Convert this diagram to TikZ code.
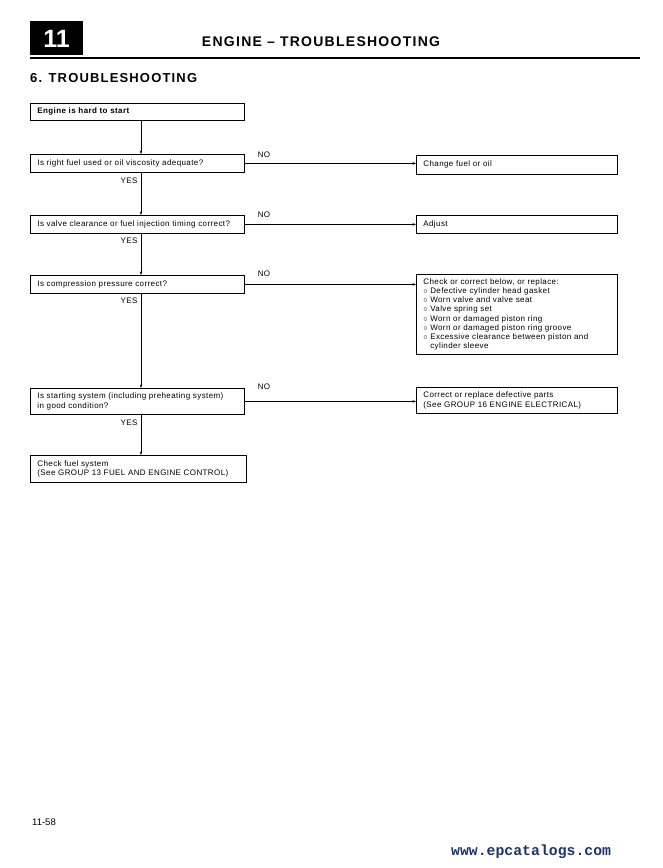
\documentclass[tikz,border=0pt]{standalone}
\usepackage{fontspec}
\setmainfont{Liberation Sans}
\newfontfamily\hdrfont[LetterSpace=9]{Liberation Sans}
\newfontfamily\boxfont[LetterSpace=5]{Liberation Sans}
\newfontfamily\urlfont{Liberation Mono}
\usetikzlibrary{arrows.meta}
\definecolor{urlblue}{HTML}{1C3566}
\begin{document}
\begin{tikzpicture}[x=1pt,y=-1pt,
  box/.style={draw, line width=0.8pt, anchor=north west, inner xsep=7pt, inner ysep=2pt,
    align=left, font=\boxfont\fontsize{8}{9.2}\selectfont},
  arr/.style={line width=0.7pt, -{Stealth[length=3.5pt,width=2.6pt]}},
  lbl/.style={font=\boxfont\fontsize{8}{9}\selectfont, inner sep=0pt}]
\useasboundingbox (0,0) rectangle (662,868);
% header
\fill[black] (30,21) rectangle (83,55);
\node[text=white, font=\bfseries\fontsize{25}{25}\selectfont, inner sep=0pt] (num) at (56.5,39) {11};
\node[font=\hdrfont\bfseries\fontsize{14}{14}\selectfont, inner sep=0pt] (hdr) at (321,42) {ENGINE – TROUBLESHOOTING};
\draw[line width=1.2pt] (30,58) -- (640,58);
\node[font=\hdrfont\bfseries\fontsize{13}{13}\selectfont, anchor=west, inner sep=0pt] (sec) at (30,78) {6. TROUBLESHOOTING};
% left boxes
\node[box, minimum width=214pt, minimum height=17pt, text width=200pt] (b1) at (30,103) {\textbf{Engine is hard to start}};
\node[box, minimum width=214pt, minimum height=18pt, text width=200pt] (b2) at (30,154) {Is right fuel used or oil viscosity adequate?};
\node[box, minimum width=214pt, minimum height=18pt, text width=200pt] (b3) at (30,215) {Is valve clearance or fuel injection timing correct?};
\node[box, minimum width=214pt, minimum height=18pt, text width=200pt] (b4) at (30,275) {Is compression pressure correct?};
\node[box, minimum width=214pt, minimum height=26pt, text width=200pt] (b5) at (30,388) {Is starting system (including preheating system)\\in good condition?};
\node[box, minimum width=216pt, minimum height=27pt, text width=202pt] (b6) at (30,455) {Check fuel system\\(See GROUP 13 FUEL AND ENGINE CONTROL)};
% right boxes
\node[box, minimum width=201pt, minimum height=19pt, text width=187pt] (r1) at (416,155) {Change fuel or oil};
\node[box, minimum width=201pt, minimum height=18pt, text width=187pt] (r2) at (416,215) {Adjust};
\node[box, minimum width=201pt, minimum height=80pt, text width=187pt] (r3) at (416,274) {Check or correct below, or replace:\\
$\circ$ Defective cylinder head gasket\\
$\circ$ Worn valve and valve seat\\
$\circ$ Valve spring set\\
$\circ$ Worn or damaged piston ring\\
$\circ$ Worn or damaged piston ring groove\\
$\circ$ Excessive clearance between piston and\\
\phantom{$\circ$} cylinder sleeve};
\node[box, minimum width=201pt, minimum height=26pt, text width=187pt] (r4) at (416,387) {Correct or replace defective parts\\(See GROUP 16 ENGINE ELECTRICAL)};
% vertical trunk
\coordinate (vx) at (141,0);
\draw[arr] (b1.south -| vx) -- (b2.north -| vx);
\draw[arr] (b2.south -| vx) -- (b3.north -| vx);
\draw[arr] (b3.south -| vx) -- (b4.north -| vx);
\draw[arr] (b4.south -| vx) -- (b5.north -| vx);
\draw[arr] (b5.south -| vx) -- (b6.north -| vx);
% NO branches
\draw[arr] (b2.east) -- (b2.east -| r1.west);
\draw[arr] (b3.east) -- (b3.east -| r2.west);
\draw[arr] (b4.east) -- (b4.east -| r3.west);
\draw[arr] (b5.east) -- (b5.east -| r4.west);
% labels
\node[lbl] (n1) at (264,155) {NO};
\node[lbl] (n2) at (264,215) {NO};
\node[lbl] (n3) at (264,274) {NO};
\node[lbl] (n4) at (264,387) {NO};
\node[lbl] (y1) at (129,181) {YES};
\node[lbl] (y2) at (129,241) {YES};
\node[lbl] (y3) at (129,301) {YES};
\node[lbl] (y4) at (129,423) {YES};
% footer
\node[font=\fontsize{9.5}{10}\selectfont, anchor=west, inner sep=0pt] (pg) at (32,822) {11-58};
\node[font=\urlfont\bfseries\fontsize{14.8}{15}\selectfont, text=urlblue, anchor=west, inner sep=0pt] (url) at (451,852) {www.epcatalogs.com};
\end{tikzpicture}
\end{document}
